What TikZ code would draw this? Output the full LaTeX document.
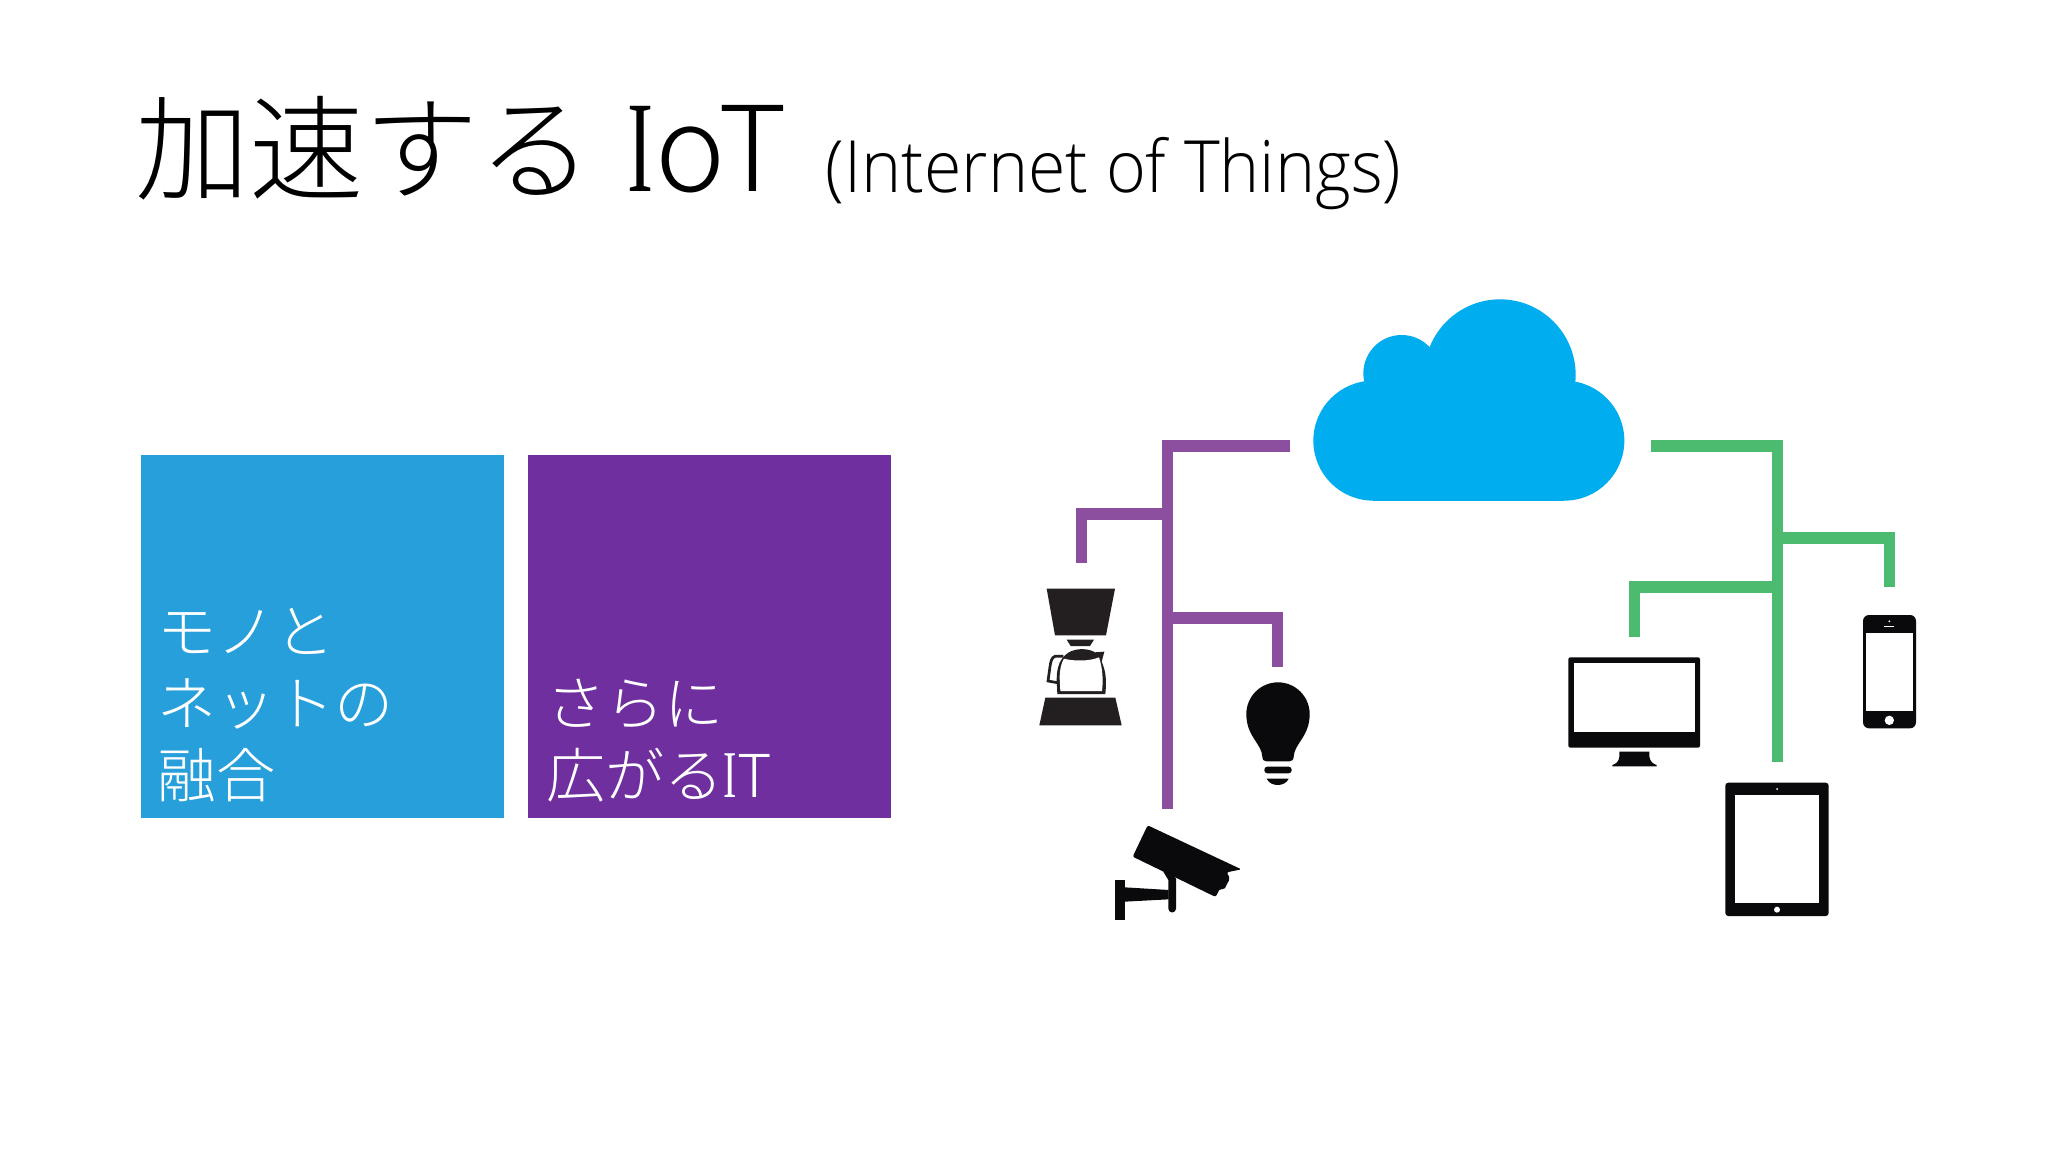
\documentclass[tikz,border=0pt]{standalone}
\usepackage{fontspec}
\usepackage{tikz}
\usetikzlibrary{positioning}
\newfontfamily\cjk{Noto Sans CJK JP Light}
\newfontfamily\latinlight[FakeStretch=0.944]{Open Sans Light}
\newfontfamily\slabi[FakeStretch=0.6]{Liberation Serif}
\definecolor{tileblue}{HTML}{279FDA}
\definecolor{tilepurple}{HTML}{6F2F9F}
\definecolor{wirepurple}{HTML}{8C4FA0}
\definecolor{wiregreen}{HTML}{4CBB6F}
\definecolor{cloudblue}{HTML}{00ADEF}
\definecolor{iconblack}{HTML}{0A0A0C}
\definecolor{coffeeblack}{HTML}{231F20}
\tikzset{
	tile/.style={rectangle, minimum width=3.63cm, minimum height=3.63cm, inner sep=0pt, outer sep=0pt},
	tilelabel/.style={inner sep=0pt, text=white, align=left, font=\cjk\fontsize{16.8}{20.5}\selectfont},
	wirep/.style={draw=wirepurple, line width=0.11cm},
	wireg/.style={draw=wiregreen, line width=0.11cm},
	icon/.style={fill=iconblack, draw=none},
	coffee/.style={fill=coffeeblack, draw=none},
	hole/.style={fill=white, draw=none}
}
\begin{document}
\begin{tikzpicture}[x=0.01cm, y=-0.01cm]
		\useasboundingbox (0,0) rectangle (2048,1152);
		\fill[white] (0,0) rectangle (2048,1152);
		% title
		\node[anchor=base west, inner sep=0pt, font=\cjk\fontsize{32.5}{36}\selectfont] (title) at (135,192) {加速する\hspace{0.3em}{\slabi\fontsize{37}{36}\selectfont I}{\fontsize{33.6}{36}\selectfont\hspace{0.02em}oT}};
		\node[anchor=base west, inner sep=0pt, font=\latinlight\fontsize{20.5}{24}\selectfont] (subtitle) at (825,193) {(Internet of Things)};
		% tiles
		\node[tile, fill=tileblue, anchor=north west] (thing) at (141,455) {};
		\node[tile, fill=tilepurple, right=0.24cm of thing] (it) {};
		\node[tilelabel, anchor=south west] (thinglabel) at (157,803) {モノと\\ネットの\\融合};
		\node[tilelabel, anchor=south west] (itlabel) at (546,803) {さらに\\広がる{\slabi\fontsize{19}{20}\selectfont I}T};
		% cloud
		\begin{scope}[shift={(1290,280)}, x=0.01cm/3, y=-0.01cm/3]
			\fill[cloudblue] (250,482) circle[radius=180];
			\fill[cloudblue] (823,482) circle[radius=180];
			\fill[cloudblue] (630,285) circle[radius=227];
			\fill[cloudblue] (335,280) circle[radius=115];
			\fill[cloudblue] (250,300) rectangle (823,662);
		\end{scope}
		% connector ends
		\coordinate (cloudw) at (1290,446);
		\coordinate (cloude) at (1651,446);
		\coordinate (pend) at (1167,809);
		\coordinate (pcoffee) at (1081,563);
		\coordinate (pbulb) at (1277,667);
		\coordinate (psplitcoffee) at (1167,514);
		\coordinate (psplitbulb) at (1167,618);
		\coordinate (gend) at (1777,762);
		\coordinate (gphone) at (1889,587);
		\coordinate (gpc) at (1634,637);
		\coordinate (gsplitphone) at (1777,538);
		\coordinate (gsplitpc) at (1777,587);
		\draw[wirep] (cloudw) -| (pend);
		\draw[wirep] (pcoffee) |- (psplitcoffee);
		\draw[wirep] (pbulb) |- (psplitbulb);
		\draw[wireg] (cloude) -| (gend);
		\draw[wireg] (gphone) |- (gsplitphone);
		\draw[wireg] (gpc) |- (gsplitpc);
		% things
		\begin{scope}[shift={(1000,540)}, x=0.01cm/3, y=-0.01cm/3]
			\fill[coffee] (140,146) -- (345,146) -- (318,286) -- (165,286) -- cycle;
			\fill[coffee] (200,299) -- (282,299) -- (270,318) -- (212,318) -- cycle;
			\fill[coffee] (136,473) -- (346,473) -- (365,556) -- (118,556) -- cycle;
			\fill[coffee] (172,462) -- (170,420) .. controls (170,380) and (180,355) .. (205,338) .. controls (230,323) and (265,325) .. (285,337) -- (313,335) -- (305,365) .. controls (318,395) and (320,420) .. (316,462) -- cycle;
			\fill[hole] (181,453) -- (179,415) .. controls (179,390) and (183,370) .. (192,356) .. controls (220,364) and (270,364) .. (297,352) .. controls (308,385) and (310,420) .. (306,453) -- cycle;
			\draw[coffeeblack, line width=0.027cm] (190,349) -- (165,349) .. controls (155,352) and (152,365) .. (150,380) -- (144,423) -- (172,428);
			% bulb
			\fill[icon] (739,522) arc[start angle=180, end angle=360, radius=95] .. controls (929,590) and (883,610) .. (881,650) .. controls (881,660) and (875,664) .. (868,664) -- (800,664) .. controls (792,664) and (787,660) .. (787,650) .. controls (785,610) and (739,590) .. cycle;
			\fill[icon, rounded corners=0.03cm] (793,680) rectangle (875,700);
			\fill[icon] (800,716) -- (866,716) .. controls (860,730) and (845,735) .. (833,735) .. controls (821,735) and (806,730) .. cycle;
			% camera
			\fill[icon, rounded corners=0.02cm] (443,856) -- (724,988) -- (680,997) -- (690,1015) -- (672,1050) -- (660,1045) -- (647,1071) -- (398,950) -- cycle;
			\fill[icon] (345,1019) rectangle (374,1140);
			\fill[icon] (374,1042) -- (506,1050) -- (506,1078) -- (374,1085) -- cycle;
			\fill[icon] (490,995) -- (512,1000) -- (528,1015) -- (528,1106) arc[start angle=0, end angle=180, radius=11.5] -- (505,1020) -- cycle;
		\end{scope}
		% devices
		\begin{scope}[shift={(1540,580)}, x=0.01cm/3, y=-0.01cm/3]
			\fill[icon, rounded corners=0.02cm] (85,232) rectangle (480,503);
			\fill[hole] (102,248) rectangle (465,455);
			\fill[icon] (238,515) -- (328,515) -- (328,530) .. controls (330,545) and (340,552) .. (350,555) -- (350,559) -- (217,559) -- (217,555) .. controls (227,552) and (237,545) .. (238,530) -- cycle;
			\fill[icon, rounded corners=0.03cm] (556,608) rectangle (866,1008);
			\fill[hole] (586,646) rectangle (836,970);
			\fill[hole] (711,989) circle[radius=9];
			\fill[hole] (711,627) circle[radius=3];
			\fill[icon, rounded corners=0.06cm] (969,105) rectangle (1128,445);
			\fill[hole] (979,158) rectangle (1118,394);
			\fill[hole] (1048,421) circle[radius=14];
			\fill[hole] (1048,124) circle[radius=3];
			\fill[hole] (1033,139) rectangle (1063,142);
		\end{scope}
	\end{tikzpicture}
\end{document}
